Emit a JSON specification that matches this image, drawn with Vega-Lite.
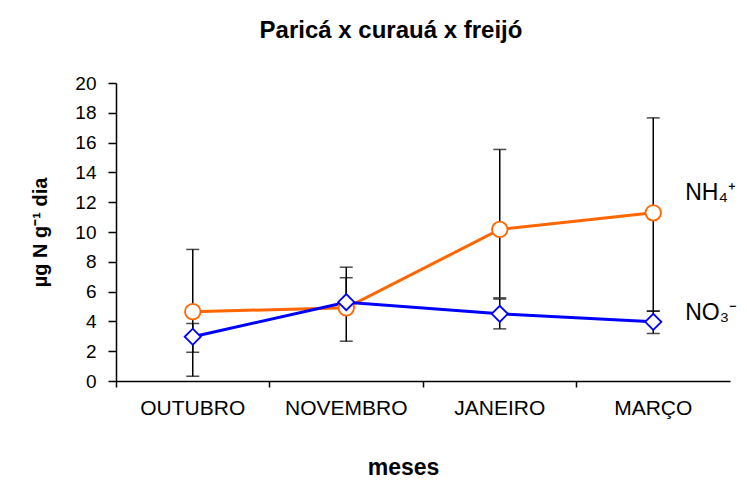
{
  "$schema": "https://vega.github.io/schema/vega-lite/v6.json",
  "width": 614,
  "height": 298,
  "autosize": {"type": "none"},
  "padding": {"left": 116, "top": 83, "right": 17, "bottom": 103},
  "background": "white",
  "title": {
    "text": "Paricá x curauá x freijó",
    "font": "Liberation Sans",
    "fontSize": 24,
    "fontWeight": "bold",
    "color": "black",
    "anchor": "middle",
    "dx": -32,
    "offset": 31
  },
  "config": {
    "view": {"stroke": null},
    "axis": {
      "labelFont": "Liberation Sans",
      "titleFont": "Liberation Sans",
      "labelColor": "black",
      "titleColor": "black",
      "domainColor": "black",
      "tickColor": "black",
      "grid": false,
      "domainWidth": 1.5,
      "tickWidth": 1.5
    }
  },
  "data": {
    "values": [
      {"mes": "OUTUBRO", "ion": "NH4", "valor": 4.65, "low": 0.32, "high": 8.83},
      {"mes": "NOVEMBRO", "ion": "NH4", "valor": 4.91, "low": 2.67, "high": 7.64},
      {"mes": "JANEIRO", "ion": "NH4", "valor": 10.17, "low": 5.58, "high": 15.54},
      {"mes": "MARÇO", "ion": "NH4", "valor": 11.29, "low": 4.68, "high": 17.66},
      {"mes": "OUTUBRO", "ion": "NO3", "valor": 2.97, "low": 1.93, "high": 3.86},
      {"mes": "NOVEMBRO", "ion": "NO3", "valor": 5.29, "low": 5.29, "high": 6.93},
      {"mes": "JANEIRO", "ion": "NO3", "valor": 4.51, "low": 3.5, "high": 5.5},
      {"mes": "MARÇO", "ion": "NO3", "valor": 3.97, "low": 3.19, "high": 4.7}
    ]
  },
  "encoding": {
    "x": {
      "field": "mes",
      "type": "nominal",
      "sort": ["OUTUBRO", "NOVEMBRO", "JANEIRO", "MARÇO"],
      "scale": {"paddingInner": 0, "paddingOuter": 0},
      "axis": {
        "title": "meses",
        "titleFontSize": 23,
        "titleFontWeight": "bold",
        "titlePadding": 38,
        "titleX": 287,
        "labelFontSize": 21,
        "labelAngle": 0,
        "labelPadding": 10,
        "tickSize": 6,
        "bandPosition": 0
      }
    }
  },
  "layer": [
    {
      "mark": {"type": "rule", "color": "black", "strokeWidth": 1.5},
      "encoding": {
        "y": {
          "field": "low",
          "type": "quantitative",
          "scale": {"domain": [0, 20]},
          "axis": {"title": "µg N g⁻¹ dia", "titleFontSize": 20, "titleFontWeight": "bold", "titlePadding": 24, "labelFontSize": 19, "labelPadding": 12, "labelOverlap": false, "tickSize": 8, "values": [0, 2, 4, 6, 8, 10, 12, 14, 16, 18, 20]}
        },
        "y2": {"field": "high"}
      }
    },
    {
      "mark": {"type": "tick", "color": "black", "thickness": 1.5, "size": 13},
      "encoding": {
        "y": {
          "field": "low",
          "type": "quantitative",
          "axis": {"title": "µg N g⁻¹ dia", "titleFontSize": 20, "titleFontWeight": "bold", "titlePadding": 24, "labelFontSize": 19, "labelPadding": 12, "labelOverlap": false, "tickSize": 8, "values": [0, 2, 4, 6, 8, 10, 12, 14, 16, 18, 20]}
        }
      }
    },
    {
      "mark": {"type": "tick", "color": "black", "thickness": 1.5, "size": 13},
      "encoding": {
        "y": {
          "field": "high",
          "type": "quantitative",
          "axis": {"title": "µg N g⁻¹ dia", "titleFontSize": 20, "titleFontWeight": "bold", "titlePadding": 24, "labelFontSize": 19, "labelPadding": 12, "labelOverlap": false, "tickSize": 8, "values": [0, 2, 4, 6, 8, 10, 12, 14, 16, 18, 20]}
        }
      }
    },
    {
      "mark": {"type": "line", "strokeWidth": 3},
      "encoding": {
        "y": {
          "field": "valor",
          "type": "quantitative",
          "axis": {"title": "µg N g⁻¹ dia", "titleFontSize": 20, "titleFontWeight": "bold", "titlePadding": 24, "labelFontSize": 19, "labelPadding": 12, "labelOverlap": false, "tickSize": 8, "values": [0, 2, 4, 6, 8, 10, 12, 14, 16, 18, 20]}
        },
        "color": {
          "field": "ion",
          "type": "nominal",
          "scale": {"domain": ["NH4", "NO3"], "range": ["#FF6600", "#0000FF"]},
          "legend": null
        }
      }
    },
    {
      "mark": {"type": "point", "filled": true, "fill": "white", "strokeWidth": 1.8, "opacity": 1},
      "encoding": {
        "y": {
          "field": "valor",
          "type": "quantitative",
          "axis": {"title": "µg N g⁻¹ dia", "titleFontSize": 20, "titleFontWeight": "bold", "titlePadding": 24, "labelFontSize": 19, "labelPadding": 12, "labelOverlap": false, "tickSize": 8, "values": [0, 2, 4, 6, 8, 10, 12, 14, 16, 18, 20]}
        },
        "shape": {
          "field": "ion",
          "type": "nominal",
          "scale": {"domain": ["NH4", "NO3"], "range": ["circle", "diamond"]},
          "legend": null
        },
        "stroke": {
          "field": "ion",
          "type": "nominal",
          "scale": {"domain": ["NH4", "NO3"], "range": ["#FF6600", "#0000FF"]},
          "legend": null
        },
        "size": {
          "field": "ion",
          "type": "nominal",
          "scale": {"domain": ["NH4", "NO3"], "range": [240, 260]},
          "legend": null
        }
      }
    },
    {
      "transform": [{"filter": "datum.mes == 'MARÇO' && datum.ion == 'NH4'"}],
      "mark": {"type": "text", "align": "left", "dx": 32, "dy": -20, "font": "Liberation Sans", "fontSize": 23, "color": "black"},
      "encoding": {
        "y": {
          "field": "valor",
          "type": "quantitative",
          "axis": {"title": "µg N g⁻¹ dia", "titleFontSize": 20, "titleFontWeight": "bold", "titlePadding": 24, "labelFontSize": 19, "labelPadding": 12, "labelOverlap": false, "tickSize": 8, "values": [0, 2, 4, 6, 8, 10, 12, 14, 16, 18, 20]}
        },
        "text": {"value": "NH₄⁺"}
      }
    },
    {
      "transform": [{"filter": "datum.mes == 'MARÇO' && datum.ion == 'NO3'"}],
      "mark": {"type": "text", "align": "left", "dx": 32, "dy": -9, "font": "Liberation Sans", "fontSize": 23, "color": "black"},
      "encoding": {
        "y": {
          "field": "valor",
          "type": "quantitative",
          "axis": {"title": "µg N g⁻¹ dia", "titleFontSize": 20, "titleFontWeight": "bold", "titlePadding": 24, "labelFontSize": 19, "labelPadding": 12, "labelOverlap": false, "tickSize": 8, "values": [0, 2, 4, 6, 8, 10, 12, 14, 16, 18, 20]}
        },
        "text": {"value": "NO₃⁻"}
      }
    }
  ]
}
